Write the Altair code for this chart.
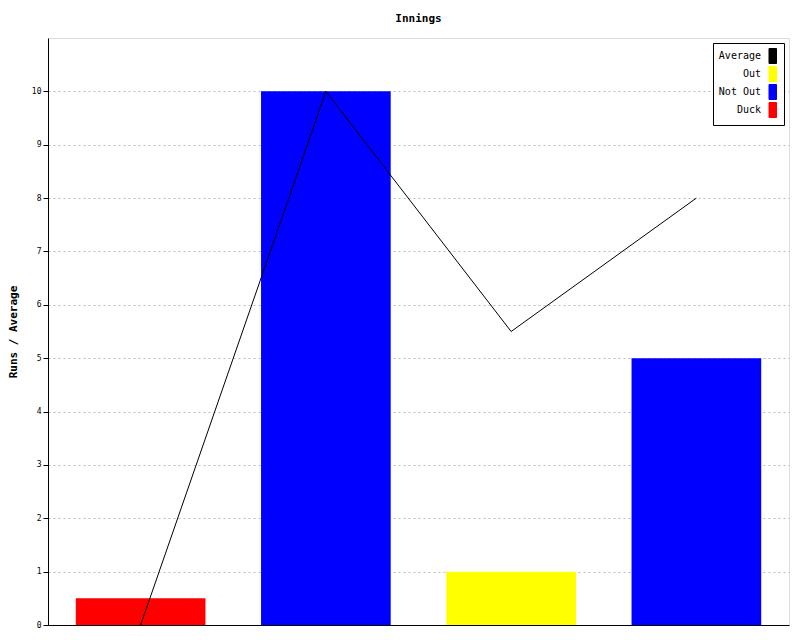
import altair as alt
import pandas as pd

innings = ["1", "2", "3", "4"]
runs = [0.5, 10, 1, 5]
status = ["Duck", "Not Out", "Out", "Not Out"]
average = [0, 10, 5.5, 8]

legend_order = ["Average", "Out", "Not Out", "Duck"]
legend_colors = ["#000000", "#ffff00", "#0000ff", "#ff0000"]

df = pd.DataFrame({
    "Innings": innings,
    "Runs": runs,
    "Status": status,
    "Average": average,
    "Series": ["Average"] * len(innings),
})

FONT = "DejaVu Sans Mono"

color = alt.Color(
    "Status:N",
    scale=alt.Scale(domain=legend_order, range=legend_colors),
    legend=alt.Legend(
        title=None,
        orient="top-right",
        offset=5,
        symbolType="M0,-1H1V1H0Z",
        symbolSize=225,
        symbolStrokeColor="black",
        symbolStrokeWidth=1,
        symbolOpacity=1,
        labelAlign="right",
        labelOffset=alt.ExprRef(expr="-16"),
        symbolOffset=43,
        labelFont=FONT,
        labelFontSize=10,
        labelColor="black",
        rowPadding=alt.ExprRef(expr="-4"),
        padding=5,
        strokeColor="black",
        fillColor="white",
    ),
)

x = alt.X(
    "Innings:N",
    sort=innings,
    scale=alt.Scale(paddingInner=0.3, paddingOuter=0.15),
    axis=alt.Axis(labels=False, ticks=False, title=None, domainColor="black", grid=False),
)

y_axis = alt.Axis(
    values=list(range(0, 11)),
    title="Runs / Average",
    titleFont=FONT,
    titleFontSize=11,
    titleFontWeight="bold",
    titleColor="black",
    titlePadding=13,
    labelFont=FONT,
    labelFontSize=8,
    labelColor="black",
    labelPadding=2,
    tickSize=5,
    tickColor="black",
    domainColor="black",
    grid=True,
    gridColor="#bbbbbb",
    gridDash=[2, 3],
)

bars = alt.Chart(df).mark_bar().encode(
    x=x,
    y=alt.Y("Runs:Q", scale=alt.Scale(domain=[0, 11], nice=False), axis=y_axis),
    color=color,
)

line = alt.Chart(df).mark_line(strokeWidth=1).encode(
    x=x,
    y=alt.Y("Average:Q"),
    color=alt.Color("Series:N", scale=alt.Scale(domain=legend_order, range=legend_colors)),
)

chart = alt.layer(bars, line).properties(
    width=741,
    height=587,
    title=alt.TitleParams(
        "Innings", font=FONT, fontSize=11, fontWeight="bold", color="black",
        anchor="middle", offset=14,
    ),
    autosize=alt.AutoSizeParams(type="none"),
    padding={"left": 40, "top": 30, "right": 3, "bottom": 7},
).configure_view(
    stroke="black", strokeWidth=1
).configure(
    background="white"
)

chart.save("out.html", embed_options={"renderer": "svg", "actions": False})
